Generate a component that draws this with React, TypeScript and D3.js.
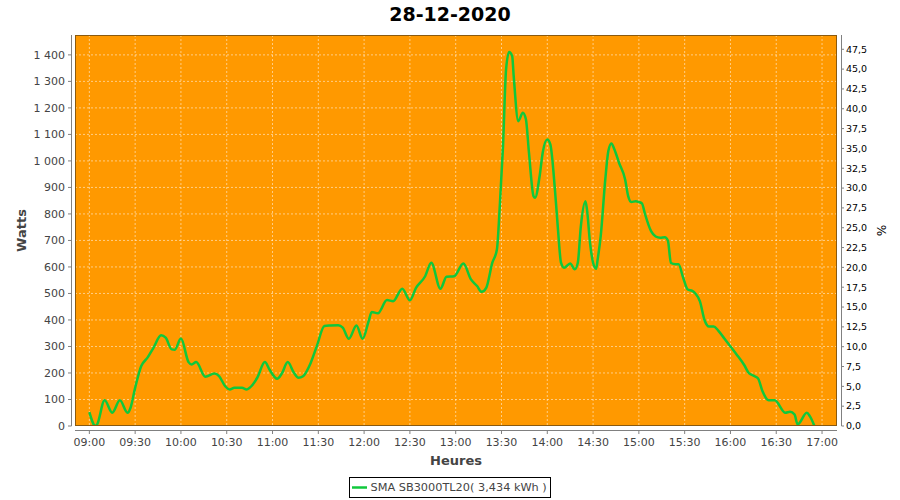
import React from "react";
import * as d3 from "d3";

const TITLE = "28-12-2020";
const SERIES_NAME = "SMA SB3000TL20( 3,434 kWh )";
const times: string[] = [
  "09:00","09:04","09:05","09:10","09:15","09:20","09:25","09:27","09:30","09:34","09:38","09:42","09:47","09:50","09:54","09:56",
  "10:00","10:05","10:07","10:10","10:16","10:22","10:25","10:29","10:32","10:35","10:40","10:43","10:45","10:50","10:55","10:58",
  "11:03","11:06","11:10","11:14","11:17","11:20","11:25","11:29","11:34","11:38","11:43","11:46","11:50","11:55","11:59",
  "12:03","12:05","12:09","12:15","12:19","12:25","12:30","12:34","12:40","12:44","12:50","12:54","12:59",
  "13:05","13:10","13:14","13:17","13:20","13:24","13:27","13:29","13:31","13:33","13:35","13:37","13:38","13:41","13:44","13:46","13:48","13:51","13:52","13:55","13:57",
  "14:00","14:02","14:05","14:07","14:09","14:11","14:15","14:18","14:20","14:22","14:25","14:26","14:28","14:30","14:32","14:33","14:35","14:38","14:40","14:42","14:44","14:47","14:51","14:53","14:55","14:58",
  "15:00","15:02","15:04","15:08","15:11","15:14","15:17","15:19","15:21","15:24","15:26","15:29","15:32","15:35","15:37","15:40","15:43","15:46","15:49","15:52","15:56",
  "16:00","16:04","16:09","16:12","16:15","16:18","16:21","16:25","16:29","16:36","16:39","16:42","16:44","16:50","16:52","16:55"
];
const watts: number[] = [
  52,0,5,97,50,97,50,69,144,226,257,295,342,333,289,288,
  330,241,232,241,186,198,188,150,138,144,144,138,144,182,241,213,
  178,197,241,201,182,188,238,301,377,379,380,371,329,379,329,
  396,430,425,475,471,518,474,521,565,616,518,563,565,
  613,553,528,506,521,616,666,842,1056,1345,1411,1396,1320,1150,1182,1157,1031,867,861,943,1031,
  1081,1062,893,742,616,597,613,591,616,754,848,817,691,616,593,628,716,930,1037,1066,1043,993,930,867,845,848,
  845,840,800,735,715,710,712,700,615,610,610,560,515,510,500,470,400,375,375,360,330,
  300,270,230,200,190,180,131,97,97,50,54,43,6,50,37,0
];
const xTickLabels: string[] = ["09:00","09:30","10:00","10:30","11:00","11:30","12:00","12:30","13:00","13:30","14:00","14:30","15:00","15:30","16:00","16:30","17:00"];
const leftTicks: number[] = [0,100,200,300,400,500,600,700,800,900,1000,1100,1200,1300,1400];
const rightTicks: number[] = [0,2.5,5,7.5,10,12.5,15,17.5,20,22.5,25,27.5,30,32.5,35,37.5,40,42.5,45,47.5];

const day = (s: string) => {
  const [h, m] = s.split(":").map(Number);
  return new Date(2020, 11, 28, h, m, 0);
};

const L = 75, R = 837, T = 35, B = 426;
const FONT = "'DejaVu Sans', sans-serif";

export default function App() {
  const x = d3.scaleTime()
    .domain([new Date(2020, 11, 28, 8, 50, 36), new Date(2020, 11, 28, 17, 9, 48)])
    .range([L, R]);
  const y = d3.scaleLinear().domain([0, 1475]).range([B, T]);
  const y2 = d3.scaleLinear().domain([0, 49.3]).range([B, T]);
  const data = times.map((t, i) => ({ t: day(t), v: watts[i] }));
  const line = d3.line<{ t: Date; v: number }>()
    .x(d => x(d.t)).y(d => y(d.v)).curve(d3.curveMonotoneX);
  const fmtL = (v: number) => v >= 1000 ? `${Math.floor(v / 1000)} ${String(v % 1000).padStart(3, "0")}` : String(v);
  const fmtR = (v: number) => v.toFixed(1).replace(".", ",");

  return (
    <svg width={900} height={500} style={{ position: "absolute", left: 0, top: 0, background: "#fff" }} fontFamily={FONT}>
      <defs>
        <clipPath id="pc"><rect x={L} y={T} width={R - L} height={B - T} /></clipPath>
      </defs>
      <text x={450} y={21} textAnchor="middle" fontSize={19} fontWeight="bold" fill="#000">{TITLE}</text>
      <rect x={L} y={T} width={R - L} height={B - T} fill="#ff9900" />
      {leftTicks.map(v => (
        <line key={"gy" + v} x1={L} x2={R} y1={y(v)} y2={y(v)} stroke="#fff" strokeOpacity={0.65} strokeWidth={0.8} strokeDasharray="2,2" />
      ))}
      {xTickLabels.map(s => (
        <line key={"gx" + s} x1={x(day(s))} x2={x(day(s))} y1={T} y2={B} stroke="#fff" strokeOpacity={0.65} strokeWidth={0.8} strokeDasharray="2,2" />
      ))}
      <path d={line(data) || ""} fill="none" stroke="#10c83c" strokeWidth={2.5} strokeLinejoin="round" clipPath="url(#pc)" />
      <rect x={L + 0.5} y={T + 0.5} width={R - L - 1} height={B - T - 1} fill="none" stroke="#8a5a10" strokeWidth={1} />
      {/* left axis */}
      <line x1={71.5} x2={71.5} y1={T} y2={B} stroke="#808080" />
      {leftTicks.map(v => (
        <g key={"lt" + v}>
          <line x1={68} x2={71.5} y1={y(v)} y2={y(v)} stroke="#808080" />
          <text x={65} y={y(v)} dy="0.35em" textAnchor="end" fontSize={11} fill="#444">{fmtL(v)}</text>
        </g>
      ))}
      <text transform={`translate(26,${(T + B) / 2}) rotate(-90)`} textAnchor="middle" fontSize={13} fontWeight="bold" fill="#444">Watts</text>
      {/* bottom axis */}
      <line x1={L} x2={R} y1={430.5} y2={430.5} stroke="#808080" />
      {xTickLabels.map(s => (
        <g key={"xt" + s}>
          <line x1={x(day(s))} x2={x(day(s))} y1={430.5} y2={434} stroke="#808080" />
          <text x={x(day(s))} y={446} textAnchor="middle" fontSize={11} fill="#444">{s}</text>
        </g>
      ))}
      <text x={(L + R) / 2} y={465} textAnchor="middle" fontSize={13} fontWeight="bold" fill="#444">Heures</text>
      {/* right axis */}
      <line x1={841.5} x2={841.5} y1={T} y2={B} stroke="#808080" />
      {rightTicks.map(v => (
        <g key={"rt" + v}>
          <line x1={841.5} x2={844} y1={y2(v)} y2={y2(v)} stroke="#808080" />
          <text x={846} y={y2(v)} dy="0.35em" textAnchor="start" fontSize={9.5} fill="#000">{fmtR(v)}</text>
        </g>
      ))}
      <text transform={`translate(877,${(T + B) / 2}) rotate(90)`} textAnchor="middle" fontSize={12} fill="#000">%</text>
      {/* legend */}
      <rect x={349.5} y={477.5} width={201} height={20} fill="#fff" stroke="#000" />
      <line x1={352} x2={367} y1={487.5} y2={487.5} stroke="#10c83c" strokeWidth={2.5} />
      <text x={370.5} y={487.5} dy="0.35em" fontSize={11.3} fill="#444">{SERIES_NAME}</text>
    </svg>
  );
}
